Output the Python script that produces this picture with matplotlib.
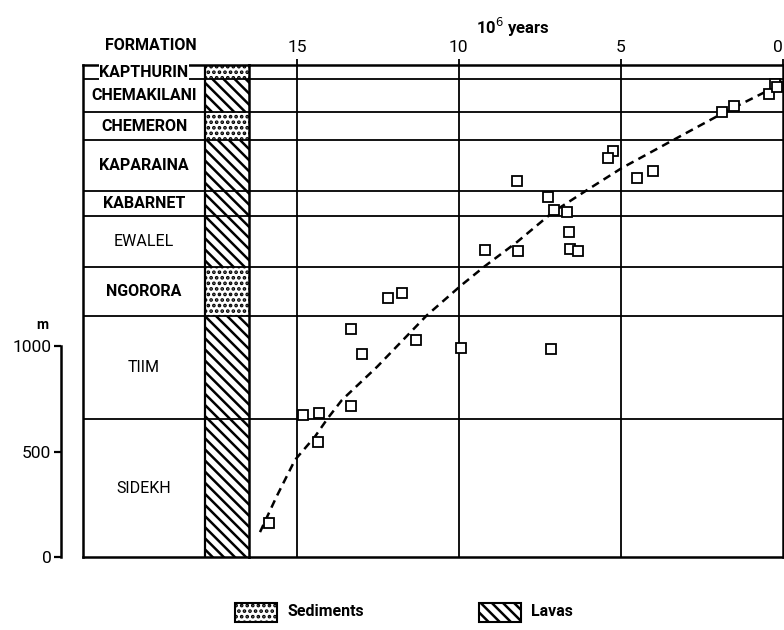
import matplotlib.pyplot as plt
from matplotlib.patches import Rectangle

plt.rcParams['font.family'] = ['Roboto', 'DejaVu Sans']
plt.rcParams['hatch.linewidth'] = 1.8
plt.rcParams['hatch.color'] = 'black'

# formations from base to top, boundaries in metres
formations = ['SIDEKH', 'TIIM', 'NGORORA', 'EWALEL', 'KABARNET',
              'KAPARAINA', 'CHEMERON', 'CHEMAKILANI', 'KAPTHURIN']
bounds_m = [0, 654, 1142, 1374, 1616, 1735, 1976, 2109, 2265, 2332]
lithology = ['lava', 'lava', 'sed', 'lava', 'lava',
             'lava', 'sed', 'lava', 'sed']
bold_names = ['KAPTHURIN', 'CHEMAKILANI', 'CHEMERON', 'KAPARAINA',
              'KABARNET', 'NGORORA']

# dated samples: age (10^6 years) vs stratigraphic height (m)
age_ma = [0.23, 0.42, 0.16, 1.49, 1.86, 5.23, 5.40, 3.99, 4.50, 8.21,
          7.24, 7.06, 6.67, 6.59, 6.56, 6.31, 9.19, 8.18, 9.93, 7.15,
          12.20, 11.76, 13.34, 12.99, 11.33, 13.34, 14.82, 14.32, 14.34, 15.86]
height_m = [2240, 2194, 2226, 2139, 2110, 1924, 1890, 1831, 1795, 1783,
            1708, 1645, 1634, 1542, 1458, 1452, 1455, 1452, 989, 986,
            1228, 1251, 1080, 962, 1028, 714, 673, 681, 546, 160]

# hand-drawn trend curve
curve_age = [16.14, 15.63, 15.06, 14.45, 14.04, 13.61, 12.52, 10.99, 9.93,
             9.19, 8.20, 7.09, 6.04, 4.96, 3.38, 1.84, 0.29, 0.02]
curve_m = [118, 286, 460, 569, 659, 744, 902, 1145, 1287,
           1379, 1493, 1635, 1739, 1844, 1976, 2104, 2223, 2256]

xticks = [15, 10, 5, 0]
yticks = [0, 500, 1000]

hatches = {'sed': '...', 'lava': '\\\\\\'}

W, H = 784, 630
fig = plt.figure(figsize=(W / 100, H / 100), dpi=100)

def fx(px):
    return px / W

def fy(py):
    return 1 - py / H

top_px, bot_px = 65, 557
ax = fig.add_axes([fx(249), fy(bot_px), fx(782.5) - fx(249), fy(top_px) - fy(bot_px)])
tab = fig.add_axes([fx(83), fy(bot_px), fx(249) - fx(83), fy(top_px) - fy(bot_px)])

ymax = bounds_m[-1]
for a in (ax, tab):
    a.set_ylim(0, ymax)
    for b in bounds_m[1:-1]:
        a.axhline(b, color='black', lw=1.3, zorder=1)

# --- data panel ---
ax.set_xlim(16.48, 0)
for t in xticks[:-1]:
    ax.axvline(t, color='black', lw=1.3, zorder=1)
ax.plot(curve_age, curve_m, color='black', lw=1.8, dashes=(3.2, 2.2), zorder=2)
ax.plot(age_ma, height_m, 's', ms=6.5, mfc='white', mec='black', mew=1.3, zorder=3)

ax.xaxis.tick_top()
ax.set_xticks(xticks)
ax.set_xticklabels([str(t) for t in xticks])
ax.tick_params(axis='x', direction='out', length=4, width=1.3, labelsize=12.5, pad=3)
# the last label sits on the right edge of the figure, keep it inside
ax.get_xticklabels()[-1].set_horizontalalignment('right')

ax.spines['left'].set_position(('axes', (61 - 249) / (782.5 - 249)))
ax.spines['left'].set_bounds(0, 1000)
ax.spines['left'].set_linewidth(1.8)
ax.set_yticks(yticks)
ax.tick_params(axis='y', direction='out', length=5, width=1.6, labelsize=12.5, pad=2)
for s in ('top', 'right', 'bottom'):
    ax.spines[s].set_linewidth(1.8)

fig.text(fx(42), fy(325), 'm', ha='center', va='center', fontsize=10, fontweight='bold')
fig.text(fx(513), fy(27), r'10$^{6}$ years', ha='center', va='center',
         fontsize=12, fontweight='bold')

# --- formation table ---
tab.set_xlim(0, 1)
tab.set_xticks([])
tab.set_yticks([])
for s in tab.spines.values():
    s.set_linewidth(1.8)
col = (205 - 83) / (249 - 83)
tab.axvline(col, color='black', lw=1.6)
for i, name in enumerate(formations):
    lo, hi = bounds_m[i], bounds_m[i + 1]
    tab.add_patch(Rectangle((col, lo), 1 - col, hi - lo, facecolor='white',
                            edgecolor='black', lw=0, hatch=hatches[lithology[i]], zorder=0))
    wt = 'bold' if name in bold_names else 'normal'
    bbox = dict(facecolor='white', edgecolor='none', pad=0.5) if name == 'KAPTHURIN' else None
    tab.text(col / 2, (lo + hi) / 2, name, ha='center', va='center',
             fontsize=11.5, fontweight=wt, bbox=bbox, zorder=4)

fig.text(fx(151), fy(46), 'FORMATION', ha='center', va='center', fontsize=11.5, fontweight='bold')

# --- legend ---
for x0, lith, label in [(235, 'sed', 'Sediments'), (479, 'lava', 'Lavas')]:
    fig.add_artist(Rectangle((fx(x0), fy(622)), fx(42), fy(603) - fy(622),
                             transform=fig.transFigure, facecolor='white',
                             edgecolor='black', lw=1.5, hatch=hatches[lith]))
    fig.text(fx(x0 + 52), fy(612), label, ha='left', va='center',
             fontsize=11.5, fontweight='bold')

fig.savefig('out.png', dpi=100)
